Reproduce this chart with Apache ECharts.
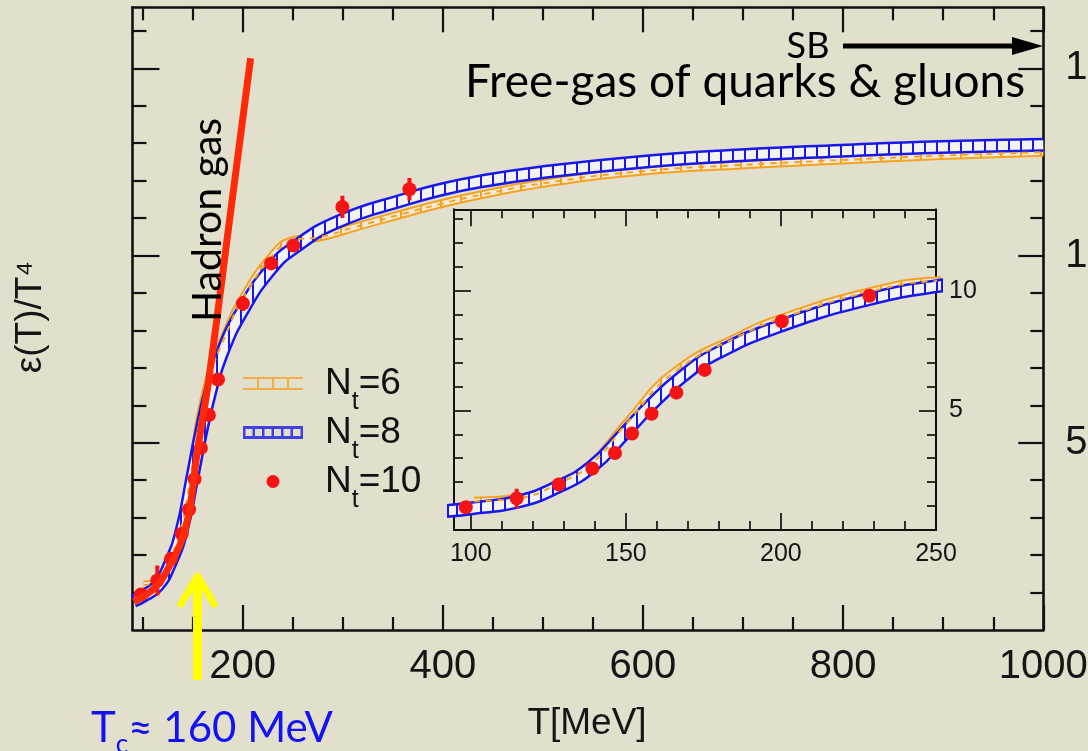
<!DOCTYPE html>
<html><head><meta charset="utf-8">
<script src="https://cdn.jsdelivr.net/npm/echarts@6/dist/echarts.min.js"></script>
<style>html,body{margin:0;padding:0;background:#E2DFCC;}#c{width:1088px;height:751px;}</style>
</head><body><div id="c"></div>
<script>
// ---------- data ----------
const nt6T = [101, 115, 128.4, 139.2, 150.5, 165.7, 187.3, 200.3, 228.5, 250, 278, 311, 361, 398, 438, 498, 598, 698, 798, 898, 1000];
const nt6V = [1.2, 1.32, 1.95, 2.8, 4.5, 6.6, 8.15, 8.85, 9.95, 10.4, 10.5, 10.75, 11.12, 11.38, 11.62, 11.92, 12.25, 12.42, 12.55, 12.67, 12.76];
const nt8T = [91, 100, 115, 128, 139, 149.5, 158, 168, 179, 200, 228.5, 251, 295, 365, 398, 438, 498, 598, 698, 798, 898, 1000];
const nt8V = [0.78, 0.90, 1.18, 1.80, 2.64, 4.03, 5.21, 6.39, 7.36, 8.54, 9.65, 10.2, 10.9, 11.52, 11.76, 11.98, 12.22, 12.5, 12.68, 12.8, 12.9, 12.96];
const nt10T = [98.4, 114.8, 128.4, 139.2, 146.5, 152, 158.3, 166.3, 175.4, 200.3, 228.5, 250.7, 299.7, 366.7];
const nt10V = [0.95, 1.32, 1.90, 2.57, 3.22, 4.03, 4.86, 5.74, 6.69, 8.72, 9.79, 10.27, 11.30, 11.77];
const nt10Err = [0, 0.4, 0, 0, 0, 0, 0, 0, 0, 0.2, 0.15, 0, 0.3, 0.3];
const hadronT = [91.3, 103, 116.3, 126.3, 138, 146.3, 154.7, 166, 188.5, 208];
const hadronV = [0.75, 0.93, 1.24, 1.68, 2.31, 3.10, 4.75, 6.65, 11.26, 15.27];

const mainXMajor = [200, 400, 600, 800, 1000];
const mainXMinor = [100, 150, 250, 300, 350, 450, 500, 550, 650, 700, 750, 850, 900, 950];
const mainYMajor = [5, 10, 15];
const mainYMinor = [1, 2, 3, 4, 6, 7, 8, 9, 11, 12, 13, 14, 16];
const insetXMajor = [100, 150, 200, 250];
const insetXMinor = [110, 120, 130, 140, 160, 170, 180, 190, 210, 220, 230, 240];
const insetYMajor = [5, 10];
const insetYMinor = [1, 2, 3, 4, 6, 7, 8, 9, 11, 12, 13];
const legendNames = ['N_t=6', 'N_t=8', 'N_t=10'];
const legendNums = ['6', '8', '10'];

// ---------- helpers ----------
const pairs = (xs, ys) => xs.map((x, i) => [x, ys[i]]);
const BG = '#E2DFCC';
const BLUE = '#1818EE';
const ORANGE = '#F7A21F';
const RED = '#F41414';

function stripePattern(bg, stripe, period, w) {
  const c = document.createElement('canvas');
  c.width = period; c.height = 4;
  const g = c.getContext('2d');
  g.fillStyle = bg; g.fillRect(0, 0, period, 4);
  g.fillStyle = stripe; g.fillRect(0, 0, w, 4);
  return { image: c, repeat: 'repeat' };
}
const bluePat = stripePattern('#F3F3F1', BLUE, 12, 2);
const orangePat = stripePattern('#F1EBDC', ORANGE, 20, 2);

function xAx(grid, pos, min, max, ticks, len, tw, lineW, labels, fs, margin) {
  return {
    type: 'value', gridIndex: grid, position: pos, min: min, max: max,
    axisLine: { show: lineW > 0, onZero: false, lineStyle: { color: '#111', width: lineW || 1 } },
    axisTick: { show: true, inside: true, length: len, customValues: ticks, lineStyle: { color: '#111', width: tw } },
    axisLabel: labels ? { show: true, customValues: labels, fontSize: fs, margin: margin, color: '#151515',
      fontFamily: 'Liberation Sans', formatter: function (v) { return String(v); } } : { show: false },
    splitLine: { show: false }
  };
}

const SM = 0.5;
function bandSeries(tag, data, xi, yi, outerColor, outerW, pat, innerW, z) {
  return [
    { type: 'line', name: tag + '-edge', xAxisIndex: xi, yAxisIndex: yi, data: data, smooth: SM,
      showSymbol: false, silent: true, z: z, lineStyle: { color: outerColor, width: outerW } },
    { type: 'line', name: tag + '-fill', xAxisIndex: xi, yAxisIndex: yi, data: data, smooth: SM,
      showSymbol: false, silent: true, z: z + 1, lineStyle: { color: pat, width: innerW } }
  ];
}

function errSeries(xi, yi, z) {
  return {
    type: 'custom', xAxisIndex: xi, yAxisIndex: yi, z: z, silent: true, clip: true,
    data: nt10T.map((t, i) => [t, nt10V[i], nt10Err[i]]),
    renderItem: function (params, api) {
      const e = api.value(2);
      if (!e) return null;
      const p1 = api.coord([api.value(0), api.value(1) - e]);
      const p2 = api.coord([api.value(0), api.value(1) + e]);
      return { type: 'line', shape: { x1: p1[0], y1: p1[1], x2: p2[0], y2: p2[1] }, style: { stroke: RED, lineWidth: 4 } };
    }
  };
}

function panel(xi, yi, symSize, withHadron) {
  const s = [];
  s.push(...bandSeries('N6', pairs(nt6T, nt6V), xi, yi, ORANGE, 9, orangePat, 5, 2));
  s.push(...bandSeries('N8', pairs(nt8T, nt8V), xi, yi, BLUE, 14, bluePat, 9, 4));
  s.push({ type: 'line', name: 'N6-mid', xAxisIndex: xi, yAxisIndex: yi, data: pairs(nt6T, nt6V), smooth: SM,
    showSymbol: false, silent: true, z: 6, lineStyle: { color: ORANGE, width: 2, type: [6, 6] } });
  s.push(errSeries(xi, yi, 8));
  s.push({ type: 'scatter', name: 'N_t=10', xAxisIndex: xi, yAxisIndex: yi, data: pairs(nt10T, nt10V), symbolSize: symSize,
    clip: true, z: 9, itemStyle: { color: RED, opacity: 1 } });
  if (withHadron) {
    s.push({ type: 'line', name: 'Hadron gas', xAxisIndex: xi, yAxisIndex: yi, data: pairs(hadronT, hadronV), smooth: 0.4,
      showSymbol: false, silent: true, z: 12, lineStyle: { color: '#FF2A08', width: 7, cap: 'butt' } });
  }
  return s;
}

const orangeIcon = 'path://M0,0H60V2H0Z M0,11H60V13H0Z M14,0H16V13H14Z M29,0H31V13H29Z M44,0H46V13H44Z';
const blueIcon = 'path://M0,0H60V3H0Z M0,10H60V13H0Z M0,0H2.5V13H0Z M9.5,0H12V13H9.5Z M19,0H21.5V13H19Z M28.5,0H31V13H28.5Z M38,0H40.5V13H38Z M47.5,0H50V13H47.5Z M57.5,0H60V13H57.5Z';

const series = [];
series.push(...panel(0, 0, 14, true));
series.push(...panel(4, 4, 14, false));
series.push({ type: 'scatter', name: 'N_t=6', data: [], xAxisIndex: 0, yAxisIndex: 0, itemStyle: { color: ORANGE } });
series.push({ type: 'scatter', name: 'N_t=8', data: [], xAxisIndex: 0, yAxisIndex: 0, itemStyle: { color: BLUE } });

const MX = [90, 1000], MY = [0, 16.63], IX = [94.6, 250], IY = [0, 13.4];

const option = {
  backgroundColor: BG,
  animation: false,
  grid: [
    { left: 132.5, top: 7.3, width: 910.8, height: 622.7, outerBoundsMode: 'none', containLabel: false },
    { left: 454, top: 209.3, width: 482, height: 320.7, show: true, backgroundColor: BG, borderWidth: 0, outerBoundsMode: 'none', containLabel: false }
  ],
  xAxis: [
    xAx(0, 'bottom', MX[0], MX[1], mainXMajor, 25, 2.2, 2.6, mainXMajor, 40, 17),
    xAx(0, 'bottom', MX[0], MX[1], mainXMinor, 13, 2.2, 0),
    xAx(0, 'top', MX[0], MX[1], mainXMajor, 25, 2.2, 2.6),
    xAx(0, 'top', MX[0], MX[1], mainXMinor, 13, 2.2, 0),
    xAx(1, 'bottom', IX[0], IX[1], insetXMajor, 17, 1.7, 2, insetXMajor, 25, 12),
    xAx(1, 'bottom', IX[0], IX[1], insetXMinor, 9, 1.7, 0),
    xAx(1, 'top', IX[0], IX[1], insetXMajor, 17, 1.7, 2),
    xAx(1, 'top', IX[0], IX[1], insetXMinor, 9, 1.7, 0)
  ],
  yAxis: [
    xAx(0, 'left', MY[0], MY[1], mainYMajor, 27, 2.2, 2.6),
    xAx(0, 'left', MY[0], MY[1], mainYMinor, 14, 2.2, 0),
    xAx(0, 'right', MY[0], MY[1], mainYMajor, 25, 2.2, 2.6, mainYMajor, 40, 22),
    xAx(0, 'right', MY[0], MY[1], mainYMinor, 13, 2.2, 0),
    xAx(1, 'left', IY[0], IY[1], insetYMajor, 17, 1.7, 2),
    xAx(1, 'left', IY[0], IY[1], insetYMinor, 9, 1.7, 0),
    xAx(1, 'right', IY[0], IY[1], insetYMajor, 17, 1.7, 2, insetYMajor, 25, 13),
    xAx(1, 'right', IY[0], IY[1], insetYMinor, 9, 1.7, 0)
  ],
  legend: {
    orient: 'vertical', left: 243, top: 365, padding: 0, itemGap: -1,
    itemWidth: 60, itemHeight: 13, selectedMode: false,
    data: [
      { name: legendNames[0], icon: orangeIcon },
      { name: legendNames[1], icon: blueIcon },
      { name: legendNames[2], icon: 'circle' }
    ],
    formatter: function (name) {
      const i = legendNames.indexOf(name);
      return '{n|N}{s|t}{a|=' + legendNums[i] + '}';
    },
    textStyle: {
      rich: {
        n: { fontSize: 37, fontFamily: 'Liberation Sans', color: '#111', padding: [0, 0, 0, 17], lineHeight: 63 },
        s: { fontSize: 25, fontFamily: 'Liberation Sans', color: '#111', padding: [38, 0, 0, 0] },
        a: { fontSize: 37, fontFamily: 'Liberation Sans', color: '#111', lineHeight: 63 }
      }
    }
  },
  series: series,
  graphic: [
    { type: 'text', x: 31, y: 317, rotation: Math.PI / 2, z: 50,
      style: { text: 'ε(T)/T⁴', font: '37px "Liberation Sans"', fill: '#151515', align: 'center', verticalAlign: 'middle' } },
    { type: 'text', x: 208, y: 220, rotation: Math.PI / 2, z: 50,
      style: { text: 'Hadron gas', font: '41px Lato', fill: '#000', align: 'center', verticalAlign: 'middle' } },
    { type: 'text', x: 465, y: 82, z: 50,
      style: { text: 'Free-gas of quarks & gluons', font: '46px Lato', fill: '#000', align: 'left', verticalAlign: 'middle' } },
    { type: 'text', x: 808, y: 46, z: 50,
      style: { text: 'SB', font: '36px Lato', fill: '#000', align: 'center', verticalAlign: 'middle' } },
    { type: 'line', z: 50, shape: { x1: 843, y1: 46, x2: 1016, y2: 46 }, style: { stroke: '#000', lineWidth: 5 } },
    { type: 'polygon', z: 50, shape: { points: [[1012, 37], [1043, 46], [1012, 55]] }, style: { fill: '#000' } },
    { type: 'line', z: 50, shape: { x1: 197.5, y1: 680, x2: 197.5, y2: 580 }, style: { stroke: '#FFFF00', lineWidth: 9 } },
    { type: 'polyline', z: 50, shape: { points: [[181, 604], [197.5, 576], [214, 604]] },
      style: { stroke: '#FFFF00', fill: null, lineWidth: 7, lineCap: 'round', lineJoin: 'round' } },
    { type: 'text', x: 587, y: 724, z: 50,
      style: { text: 'T[MeV]', font: '37px "Liberation Sans"', fill: '#151515', align: 'center', verticalAlign: 'middle' } },
    { type: 'text', x: 91, y: 728, z: 50,
      style: { text: '{a|T}{b|c}{a|≈ 160 MeV}', align: 'left', verticalAlign: 'middle',
        rich: {
          a: { fontSize: 42, fontFamily: 'Lato', fill: '#1212F2' },
          b: { fontSize: 26, fontFamily: 'Lato', fill: '#1212F2', padding: [34, 0, 0, 0] }
        } } }
  ]
};

const chart = echarts.init(document.getElementById('c'), null, { renderer: 'canvas', width: 1088, height: 751 });
chart.setOption(option);
</script>
</body></html>
